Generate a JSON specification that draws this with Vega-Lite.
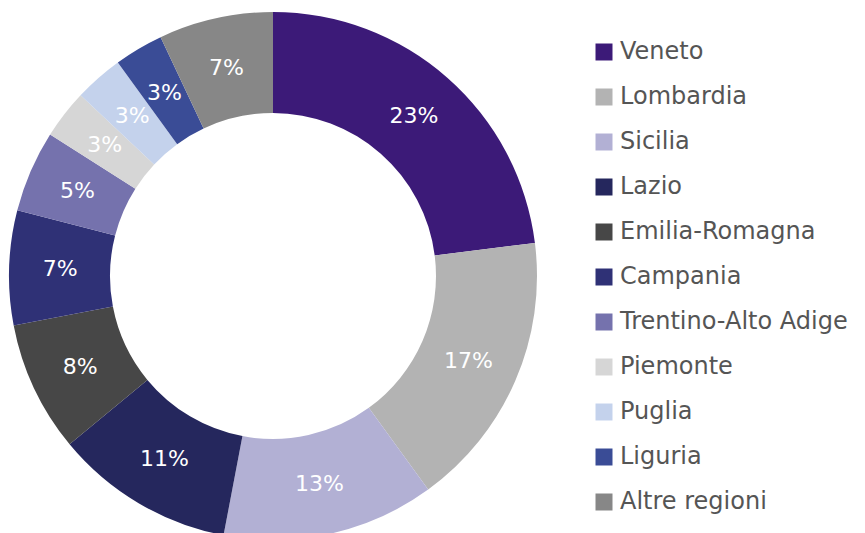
{
  "$schema": "https://vega.github.io/schema/vega-lite/v6.json",
  "width": 546,
  "height": 552,
  "padding": 0,
  "background": "#ffffff",
  "config": {"view": {"stroke": null}, "font": "DejaVu Sans"},
  "data": {"values": [
    {"region": "Veneto", "pct": 23, "label": "23%", "idx": 1},
    {"region": "Lombardia", "pct": 17, "label": "17%", "idx": 2},
    {"region": "Sicilia", "pct": 13, "label": "13%", "idx": 3},
    {"region": "Lazio", "pct": 11, "label": "11%", "idx": 4},
    {"region": "Emilia-Romagna", "pct": 8, "label": "8%", "idx": 5},
    {"region": "Campania", "pct": 7, "label": "7%", "idx": 6},
    {"region": "Trentino-Alto Adige", "pct": 5, "label": "5%", "idx": 7},
    {"region": "Piemonte", "pct": 3, "label": "3%", "idx": 8},
    {"region": "Puglia", "pct": 3, "label": "3%", "idx": 9},
    {"region": "Liguria", "pct": 3, "label": "3%", "idx": 10},
    {"region": "Altre regioni", "pct": 7, "label": "7%", "idx": 11}
  ]},
  "encoding": {
    "theta": {"field": "pct", "type": "quantitative", "stack": true},
    "order": {"field": "idx", "type": "quantitative"},
    "color": {
      "field": "region",
      "type": "nominal",
      "sort": null,
      "scale": {
        "domain": ["Veneto", "Lombardia", "Sicilia", "Lazio", "Emilia-Romagna", "Campania", "Trentino-Alto Adige", "Piemonte", "Puglia", "Liguria", "Altre regioni"],
        "range": ["#3c1a78", "#b3b3b3", "#b2b0d4", "#25275d", "#474747", "#2f3176", "#7572ad", "#d6d6d6", "#c4d2ec", "#3a4c96", "#878787"]
      },
      "legend": {
        "title": null,
        "orient": "none",
        "legendX": 592,
        "legendY": 40,
        "symbolType": "square",
        "symbolSize": 289,
        "symbolStrokeWidth": 0,
        "labelFontSize": 24,
        "labelColor": "#555555",
        "labelLimit": 400,
        "labelOffset": 4,
        "rowPadding": 21
      }
    }
  },
  "layer": [
    {"mark": {"type": "arc", "innerRadius": 163, "outerRadius": 264}},
    {
      "mark": {"type": "text", "radius": 213, "fontSize": 22},
      "encoding": {
        "text": {"field": "label", "type": "nominal"},
        "fill": {"value": "#ffffff"}
      }
    }
  ]
}
